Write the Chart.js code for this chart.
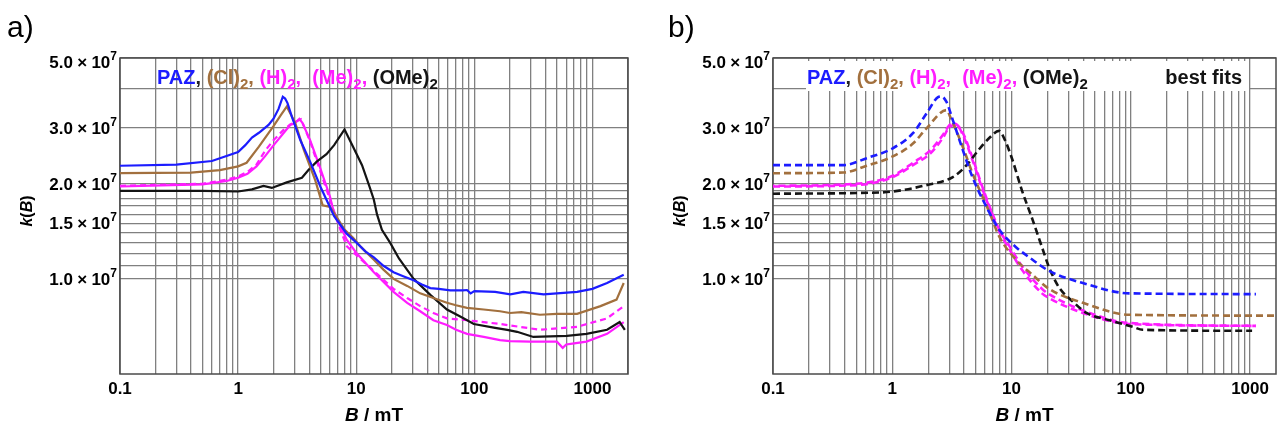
<!DOCTYPE html>
<html>
<head>
<meta charset="utf-8">
<script src="https://cdn.jsdelivr.net/npm/chart.js@4.4.1/dist/chart.umd.min.js"></script>
<style>
  html, body { margin: 0; padding: 0; background: #fff; overflow: hidden; }
  #wrap { position: relative; width: 1277px; height: 427px; }
  canvas { position: absolute; top: 0; }
  #chartA { left: 0; }
  #chartB { left: 640px; }
</style>
</head>
<body>
<div id="wrap">
  <canvas id="chartA" width="640" height="427"></canvas>
  <canvas id="chartB" width="637" height="427"></canvas>
</div>
<script>
// k values are given in units of 10^7
const K_UNIT = 1e7;

// ---- a) measured k(B) curves ----
const bPAZ = [0.1, 0.3, 0.6, 1.0, 1.15, 1.31, 1.5, 1.81, 2.0, 2.2, 2.39, 2.5, 2.62, 2.85, 3.36, 4.07, 5.0, 5.6, 6.5, 8.3, 10.1, 12, 14.1, 17, 20.7, 25, 30.6, 36, 42.4, 50, 62.6, 80, 86.7, 93, 100, 150, 202, 260, 386, 500, 741, 1000, 1330, 1840];
const kPAZ = [2.28, 2.30, 2.36, 2.52, 2.65, 2.80, 2.90, 3.07, 3.22, 3.45, 3.77, 3.72, 3.60, 3.26, 2.75, 2.35, 1.95, 1.78, 1.58, 1.39, 1.30, 1.22, 1.17, 1.10, 1.05, 1.02, 0.99, 0.96, 0.935, 0.93, 0.92, 0.92, 0.922, 0.90, 0.915, 0.91, 0.893, 0.91, 0.893, 0.90, 0.91, 0.93, 0.97, 1.03];

const bCl = [0.1, 0.4, 0.7, 1.0, 1.18, 1.5, 2.0, 2.3, 2.58, 3.04, 3.6, 4.5, 5.2, 6.0, 6.4, 8, 9.4, 11, 14.1, 17, 20.7, 27, 34.8, 45, 58.6, 70, 86.7, 120, 165, 200, 250, 359, 500, 741, 1170, 1600, 1840];
const kCl = [2.16, 2.17, 2.21, 2.27, 2.33, 2.62, 3.05, 3.30, 3.51, 3.12, 2.56, 2.05, 1.71, 1.69, 1.63, 1.43, 1.35, 1.26, 1.15, 1.07, 1.00, 0.95, 0.90, 0.87, 0.84, 0.825, 0.81, 0.80, 0.79, 0.78, 0.785, 0.77, 0.775, 0.775, 0.82, 0.86, 0.97];

const bH = [0.1, 0.5, 0.8, 1.0, 1.2, 1.43, 1.7, 2.0, 2.4, 2.76, 3.0, 3.3, 3.5, 4.07, 4.9, 6.0, 6.4, 8.3, 10, 14.1, 20.7, 27, 34.8, 45, 58.6, 70, 86.7, 120, 165, 200, 296, 500, 560, 600, 700, 890, 1330, 1840];
const kH = [1.96, 1.99, 2.04, 2.09, 2.15, 2.27, 2.45, 2.65, 2.88, 3.07, 3.10, 3.21, 3.12, 2.75, 2.27, 1.82, 1.65, 1.33, 1.21, 1.05, 0.91, 0.84, 0.79, 0.74, 0.715, 0.69, 0.67, 0.655, 0.64, 0.635, 0.633, 0.633, 0.605, 0.62, 0.625, 0.633, 0.67, 0.73];

const bMe = [0.1, 0.5, 0.8, 1.0, 1.2, 1.43, 1.7, 2.0, 2.4, 2.76, 3.1, 3.4, 3.6, 4.07, 4.9, 6.0, 7.0, 8.3, 10, 14.1, 20.7, 27, 34.8, 45, 58.6, 86.7, 165, 359, 741, 1330, 1840];
const kMe = [1.97, 2.00, 2.06, 2.11, 2.18, 2.30, 2.55, 2.75, 2.95, 3.08, 3.15, 3.20, 3.05, 2.72, 2.22, 1.78, 1.50, 1.27, 1.19, 1.06, 0.93, 0.87, 0.82, 0.78, 0.75, 0.74, 0.72, 0.69, 0.705, 0.75, 0.82];

const bOMe = [0.1, 0.5, 1.0, 1.31, 1.64, 1.93, 2.58, 3.47, 3.94, 4.63, 5.6, 6.5, 7.96, 9.4, 11.2, 13, 14.1, 15, 16.5, 19.4, 23, 30.6, 42.4, 58.6, 76, 99, 150, 190, 230, 316, 607, 890, 1330, 1700, 1880];
const kOMe = [1.90, 1.90, 1.89, 1.92, 1.97, 1.94, 2.02, 2.09, 2.21, 2.35, 2.48, 2.65, 2.97, 2.62, 2.29, 1.95, 1.78, 1.60, 1.43, 1.30, 1.16, 1.00, 0.89, 0.80, 0.76, 0.72, 0.70, 0.69, 0.68, 0.655, 0.66, 0.67, 0.69, 0.73, 0.69];

// ---- b) best-fit curves ----
const bFitPAZ = [0.1, 0.39, 0.61, 1.01, 1.49, 1.93, 2.42, 2.58, 2.85, 3.22, 3.9, 4.7, 6.36, 7.9, 10.9, 15, 20.6, 39.6, 97, 1120];
const kFitPAZ = [2.29, 2.29, 2.41, 2.59, 2.89, 3.33, 3.76, 3.78, 3.63, 3.18, 2.56, 2.10, 1.65, 1.43, 1.26, 1.15, 1.06, 0.97, 0.90, 0.895];

const bFitCl = [0.1, 0.39, 0.61, 1.01, 1.49, 1.93, 2.85, 3.1, 3.9, 4.7, 6.5, 7.9, 10.9, 15, 20.6, 39.6, 97, 1650];
const kFitCl = [2.16, 2.17, 2.28, 2.44, 2.68, 2.99, 3.42, 3.22, 2.62, 2.16, 1.63, 1.36, 1.15, 1.03, 0.93, 0.84, 0.77, 0.765];

const bFitH = [0.1, 0.5, 1.01, 1.49, 2.1, 2.7, 3.0, 3.45, 3.9, 4.7, 5.6, 6.9, 7.9, 9.6, 12.2, 18, 20.6, 39.6, 97, 1120];
const kFitH = [1.96, 1.98, 2.10, 2.29, 2.50, 2.82, 3.02, 3.07, 2.86, 2.38, 1.96, 1.59, 1.41, 1.24, 1.07, 0.90, 0.87, 0.78, 0.72, 0.71];

const bFitMe = [0.1, 0.5, 1.01, 1.49, 2.1, 2.7, 3.0, 3.3, 3.9, 4.7, 5.6, 6.9, 7.9, 9.6, 12.2, 18, 20.6, 39.6, 97, 1120];
const kFitMe = [1.97, 2.00, 2.12, 2.33, 2.56, 2.88, 3.06, 3.10, 2.90, 2.42, 1.99, 1.61, 1.43, 1.27, 1.10, 0.93, 0.895, 0.795, 0.725, 0.71];

const bFitOMe = [0.1, 0.5, 1.01, 1.93, 3.22, 4.2, 5.3, 6.5, 7.85, 8.8, 10.1, 12.2, 15, 18, 20.6, 25, 32.4, 42.5, 66, 104, 126, 1040];
const kFitOMe = [1.86, 1.87, 1.89, 1.98, 2.10, 2.29, 2.56, 2.79, 2.94, 2.75, 2.40, 1.91, 1.54, 1.26, 1.09, 0.94, 0.85, 0.78, 0.74, 0.705, 0.69, 0.685];

// ---- axes ----
const xTickLabels = [0.1, 1, 10, 100, 1000];
const yTickLabels = [1.0, 1.5, 2.0, 3.0, 5.0];          // x 10^7
const yGridLines  = [1.0, 1.1, 1.2, 1.3, 1.4, 1.5, 1.6, 1.7, 1.8, 1.9, 2.0, 3.0, 4.0, 5.0]; // x 10^7
const xGridA = [0.1, 0.2, 0.3, 0.4, 0.5, 0.6, 0.7, 0.8, 0.9, 1, 2, 3, 4, 5, 6, 7, 8, 9, 10, 20, 30, 40, 50, 60, 70, 80, 90, 100, 200, 300, 400, 500, 600, 700, 800, 900, 1000, 2000];
const xGridB = xGridA.slice(0, 37);

const BLUE = '#1c1cff', BROWN = '#a2703e', MAGENTA = '#ff1cff', BLACK = '#141414';
const GRID = '#808080';
const FONT = '"Liberation Sans", Arial, Helvetica, sans-serif';

function pts(bs, ks) { return bs.map((b, i) => ({ x: b, y: ks[i] * K_UNIT })); }

function drawRich(ctx, parts, x, y, align) {
  let w = 0;
  parts.forEach(p => { ctx.font = p.font; p.w = ctx.measureText(p.t).width; w += p.w; });
  let cx = align === 'right' ? x - w : align === 'center' ? x - w / 2 : x;
  parts.forEach(p => {
    ctx.font = p.font; ctx.fillStyle = p.color || '#000';
    ctx.fillText(p.t, cx, y + (p.dy || 0)); cx += p.w;
  });
  return w;
}

const B20 = 'bold 20px ' + FONT, B19 = 'bold 19px ' + FONT, B15 = 'bold 15px ' + FONT;
const B17 = 'bold 17px ' + FONT, B16 = 'bold 16px ' + FONT, B12 = 'bold 12px ' + FONT;
const BI19 = 'italic bold 19px ' + FONT, BI16 = 'italic bold 16px ' + FONT;

function legendParts() {
  return [
    { t: 'PAZ', font: B20, color: BLUE }, { t: ', ', font: B20, color: '#222' },
    { t: '(Cl)', font: B20, color: BROWN }, { t: '2', font: B15, color: BROWN, dy: 5 }, { t: ', ', font: B20, color: BROWN },
    { t: '(H)', font: B20, color: MAGENTA }, { t: '2', font: B15, color: MAGENTA, dy: 5 }, { t: ',  ', font: B20, color: MAGENTA },
    { t: '(Me)', font: B20, color: MAGENTA }, { t: '2', font: B15, color: MAGENTA, dy: 5 }, { t: ', ', font: B20, color: MAGENTA },
    { t: '(OMe)', font: B20, color: BLACK }, { t: '2', font: B15, color: BLACK, dy: 5 }
  ];
}

const decorPlugin = {
  id: 'panelDecor',
  beforeDatasetsDraw(chart, args, opts) {
    const { ctx, chartArea: a } = chart;
    ctx.save();
    if (opts.box) {
      ctx.fillStyle = '#fff';
      ctx.fillRect(opts.box[0], opts.box[1], opts.box[2], opts.box[3]);
    }
    ctx.strokeStyle = '#4a4a4a'; ctx.lineWidth = 1.5;
    ctx.strokeRect(a.left, a.top, a.right - a.left, a.bottom - a.top);
    ctx.restore();
  },
  afterDraw(chart, args, opts) {
    const { ctx, chartArea: a, scales } = chart;
    ctx.save();
    ctx.textBaseline = 'alphabetic';
    // panel letter
    ctx.font = '30px ' + FONT; ctx.fillStyle = '#000';
    ctx.fillText(opts.letter, opts.letterX, 37);
    // y tick labels
    yTickLabels.forEach(v => {
      const y = scales.y.getPixelForValue(v * K_UNIT);
      const base = Math.max(y + 6, a.top + 10);
      drawRich(ctx, [
        { t: v.toFixed(1), font: B17 }, { t: '\u2005\u00d7\u2005', font: B17 }, { t: '10', font: B17 },
        { t: '7', font: B12, dy: -8 }
      ], a.left - 3, base, 'right');
    });
    // x tick labels
    ctx.font = B17; ctx.fillStyle = '#000'; ctx.textAlign = 'center';
    xTickLabels.forEach(v => {
      ctx.fillText(String(v), scales.x.getPixelForValue(v), a.bottom + 20);
    });
    ctx.textAlign = 'left';
    // x axis title
    drawRich(ctx, [{ t: 'B', font: BI19 }, { t: ' / mT', font: B19 }], (a.left + a.right) / 2, 421, 'center');
    // y axis title (rotated)
    ctx.save();
    ctx.translate(opts.yTitleX, 211); ctx.rotate(-Math.PI / 2);
    drawRich(ctx, [{ t: 'k', font: BI16 }, { t: '(', font: B16 }, { t: 'B', font: BI16 }, { t: ')', font: B16 }], 0, 6, 'center');
    ctx.restore();
    // legend text
    drawRich(ctx, legendParts(), opts.legendX, 84, 'left');
    if (opts.extra) {
      ctx.font = B20; ctx.fillStyle = BLACK; ctx.textAlign = 'right';
      ctx.fillText(opts.extra, opts.extraX, 84);
    }
    ctx.restore();
  }
};

function makeChart(id, datasets, xMax, xGrid, padding, decor) {
  return new Chart(document.getElementById(id), {
    type: 'line',
    data: { datasets },
    options: {
      responsive: false, animation: false, events: [],
      layout: { padding },
      elements: { point: { radius: 0 } },
      plugins: { legend: { display: false }, tooltip: { enabled: false }, panelDecor: decor },
      scales: {
        x: {
          type: 'logarithmic', min: 0.1, max: xMax,
          afterBuildTicks: s => { s.ticks = xGrid.map(v => ({ value: v })); },
          ticks: { display: false },
          grid: { color: GRID, lineWidth: 1.3, drawTicks: false },
          border: { display: false }
        },
        y: {
          type: 'logarithmic', min: 5e6, max: 5e7,
          afterBuildTicks: s => { s.ticks = yGridLines.map(v => ({ value: v * K_UNIT })); },
          ticks: { display: false },
          grid: { color: GRID, lineWidth: 1.3, drawTicks: false },
          border: { display: false }
        }
      }
    },
    plugins: [decorPlugin]
  });
}

const solid = (label, data, color, extra) => Object.assign({ label, data, borderColor: color, borderWidth: 2.2, tension: 0, fill: false }, extra || {});

makeChart('chartA', [
  solid('PAZ', pts(bPAZ, kPAZ), BLUE),
  solid('(Cl)2', pts(bCl, kCl), BROWN),
  solid('(OMe)2', pts(bOMe, kOMe), BLACK),
  solid('(Me)2', pts(bMe, kMe), MAGENTA, { borderDash: [6, 4] }),
  solid('(H)2', pts(bH, kH), MAGENTA)
], 2000, xGridA, { left: 120, top: 58, right: 12, bottom: 53 },
  { letter: 'a)', letterX: 7, yTitleX: 26, legendX: 157 });

const fit = (label, data, color, offset) => ({
  label, data, borderColor: color, borderWidth: 2.6, borderDash: [7, 4], borderDashOffset: offset || 0,
  cubicInterpolationMode: 'monotone', fill: false
});

makeChart('chartB', [
  fit('PAZ fit', pts(bFitPAZ, kFitPAZ), BLUE),
  fit('(Cl)2 fit', pts(bFitCl, kFitCl), BROWN),
  fit('(OMe)2 fit', pts(bFitOMe, kFitOMe), BLACK),
  fit('(H)2 fit', pts(bFitH, kFitH), MAGENTA),
  fit('(Me)2 fit', pts(bFitMe, kFitMe), MAGENTA, 5.5)
], 1650, xGridB, { left: 133, top: 58, right: 1, bottom: 53 },
  { letter: 'b)', letterX: 28, yTitleX: 39, legendX: 167, box: [166, 61, 443, 30], extra: 'best fits', extraX: 602 });
</script>
</body>
</html>
